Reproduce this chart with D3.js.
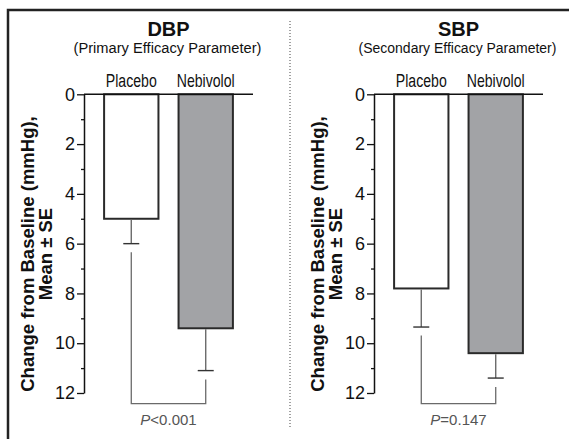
<!DOCTYPE html>
<html>
<head>
<meta charset="utf-8">
<script src="https://cdn.jsdelivr.net/npm/d3@7"></script>
<style>
  body { margin: 0; background: #fff; }
  svg { display: block; }
  .narrow { font-family: "Liberation Sans", Arial, sans-serif; }
</style>
</head>
<body>
<div id="chart"></div>
<script>
// data
var groups = ["Placebo", "Nebivolol"];
var panelNames = ["DBP", "SBP"];
var subtitles = ["(Primary Efficacy Parameter)", "(Secondary Efficacy Parameter)"];
var dbpMeans = [5.0, 9.4];
var dbpSE = [1.0, 1.7];
var sbpMeans = [7.8, 10.4];
var sbpSE = [1.55, 1.0];
var pValues = ["<0.001", "=0.147"];
var yTicks = [0, 2, 4, 6, 8, 10, 12];
var yMinorTicks = [1, 3, 5, 7, 9, 11];

var W = 569, H = 439;
var svg = d3.select("#chart").append("svg")
    .attr("width", W)
    .attr("height", H);

// outer frame (top and left only)
svg.append("path")
    .attr("d", "M8," + H + "V10H" + W)
    .attr("fill", "none")
    .attr("stroke", "#222")
    .attr("stroke-width", 2.5);

// dotted divider
svg.append("line")
    .attr("x1", 290).attr("x2", 290)
    .attr("y1", 21).attr("y2", 429)
    .attr("stroke", "#444")
    .attr("stroke-width", 1)
    .attr("stroke-dasharray", "1,2");

var y = d3.scaleLinear().domain([0, 12]).range([94.3, 393]);

// condensed look: squeeze text horizontally to the width seen in the figure
var subWidths = [188, 198];
var catWidths = [51, 58];

function narrowText(parent, str, cx, baseline, size, width) {
    var gg = parent.append("g");
    var t = gg.append("text")
        .attr("class", "narrow")
        .text(str)
        .attr("x", 0).attr("y", 0)
        .attr("text-anchor", "middle")
        .style("font-size", size + "px")
        .attr("fill", "#111");
    var k = width / t.node().getComputedTextLength();
    gg.attr("transform", "translate(" + cx + "," + baseline + ") scale(" + k + ",1)");
}

var panels = [
    { name: panelNames[0], sub: subtitles[0], means: dbpMeans, se: dbpSE, p: pValues[0], x0: 84, sw: subWidths[0] },
    { name: panelNames[1], sub: subtitles[1], means: sbpMeans, se: sbpSE, p: pValues[1], x0: 374, sw: subWidths[1] }
];

panels.forEach(function (pn) {
    var g = svg.append("g");
    var x = d3.scaleBand().domain(groups).range([pn.x0, pn.x0 + 169]).padding(0.27);
    var cx = pn.x0 + 84.5;

    g.append("text")
        .text(pn.name)
        .attr("x", cx).attr("y", 35.7)
        .attr("text-anchor", "middle")
        .style("font-family", "Liberation Sans, Arial, sans-serif")
        .style("font-weight", "bold")
        .style("font-size", "20px")
        .attr("fill", "#111");

    narrowText(g, pn.sub, cx - 1, 53, 15.5, pn.sw);

    groups.forEach(function (d, i) {
        narrowText(g, d, x(d) + x.bandwidth() / 2, 86.7, 18, catWidths[i]);
    });

    // bars
    g.selectAll(".bar")
        .data(pn.means)
        .enter()
        .append("rect")
        .attr("x", function (d, i) { return x(groups[i]); })
        .attr("y", y(0))
        .attr("width", x.bandwidth())
        .attr("height", function (d) { return y(d) - y(0); })
        .attr("fill", function (d, i) { return i == 0 ? "#fff" : "#a2a3a6"; })
        .attr("stroke", "#2a2a2a")
        .attr("stroke-width", 2);

    // error bars
    pn.means.forEach(function (m, i) {
        var bx = x(groups[i]) + x.bandwidth() / 2;
        g.append("line")
            .attr("x1", bx).attr("x2", bx)
            .attr("y1", y(m) + 1).attr("y2", y(m + pn.se[i]))
            .attr("stroke", "#6a6a6a").attr("stroke-width", 1.4);
        g.append("line")
            .attr("x1", bx - 8).attr("x2", bx + 8)
            .attr("y1", y(m + pn.se[i])).attr("y2", y(m + pn.se[i]))
            .attr("stroke", "#333").attr("stroke-width", 1.4);
    });

    // significance bracket
    var bx0 = x(groups[0]) + x.bandwidth() / 2,
        bx1 = x(groups[1]) + x.bandwidth() / 2,
        by = y(12) + 10.7,
        t0 = y(pn.means[0] + pn.se[0]) + 8.5,
        t1 = y(pn.means[1] + pn.se[1]) + 9;
    g.append("path")
        .attr("d", "M" + bx0 + "," + t0 + "V" + by + "H" + bx1 + "V" + t1)
        .attr("fill", "none")
        .attr("stroke", "#6a6a6a")
        .attr("stroke-width", 1.3);

    var pt = g.append("text")
        .attr("x", (bx0 + bx1) / 2).attr("y", 425)
        .attr("text-anchor", "middle")
        .style("font-family", "Liberation Sans, Arial, sans-serif")
        .style("font-size", "15px")
        .attr("fill", "#555");
    pt.append("tspan").style("font-style", "italic").text("P");
    pt.append("tspan").text(pn.p);

    // top zero line
    g.append("line")
        .attr("x1", pn.x0).attr("x2", pn.x0 + 169)
        .attr("y1", y(0)).attr("y2", y(0))
        .attr("stroke", "#111").attr("stroke-width", 1.5);

    // axes
    var ax = g.append("g")
        .attr("transform", "translate(" + pn.x0 + ",0)")
        .call(d3.axisLeft(y).tickValues(yTicks).tickSize(7).tickSizeOuter(0).tickPadding(2));
    ax.select(".domain").attr("stroke", "#111").attr("stroke-width", 1.5);
    ax.selectAll(".tick line").attr("stroke", "#111").attr("stroke-width", 1.3);
    ax.selectAll(".tick text")
        .style("font-family", "Liberation Sans, Arial, sans-serif")
        .style("font-size", "18px")
        .attr("fill", "#111");

    var axm = g.append("g")
        .attr("transform", "translate(" + pn.x0 + ",0)")
        .call(d3.axisLeft(y).tickValues(yMinorTicks).tickSize(3).tickFormat(""));
    axm.select(".domain").remove();
    axm.selectAll(".tick line").attr("stroke", "#111").attr("stroke-width", 1.3);

    // y label
    var yl = g.append("text")
        .attr("transform", "translate(" + (pn.x0 - 50) + "," + 254 + ") rotate(-90)")
        .attr("text-anchor", "middle")
        .style("font-family", "Liberation Sans, Arial, sans-serif")
        .style("font-weight", "bold")
        .style("font-size", "18.5px")
        .attr("fill", "#111");
    yl.append("tspan").attr("x", 0).attr("y", 0).text("Change from Baseline (mmHg),");
    yl.append("tspan").attr("x", 0).attr("y", 18).text("Mean \u00b1 SE");
});
</script>
</body>
</html>
